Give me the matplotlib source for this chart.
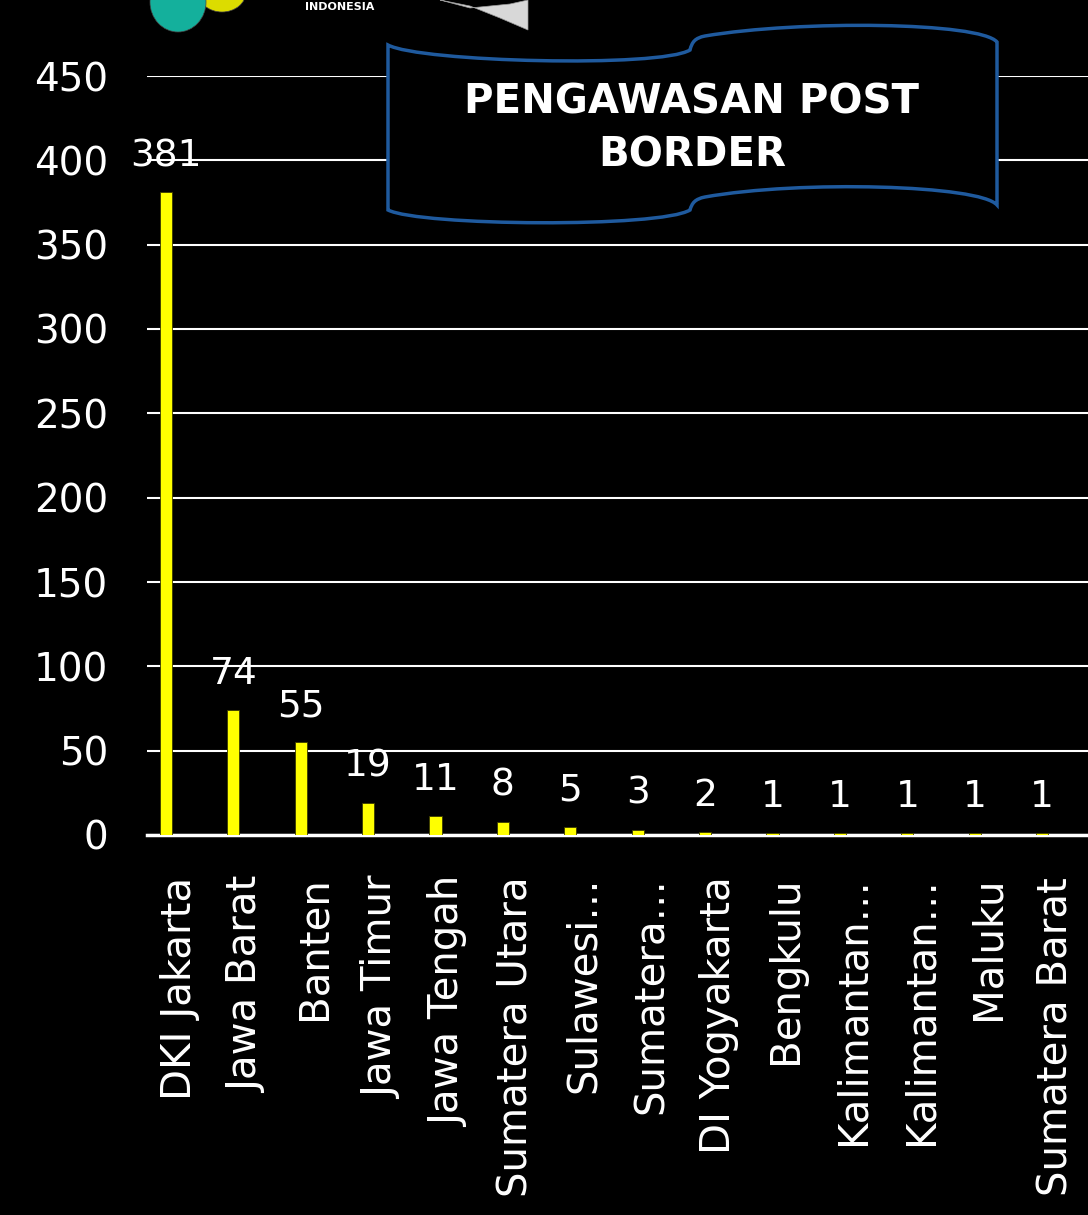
import matplotlib
matplotlib.use("Agg")
import matplotlib.pyplot as plt
import matplotlib.transforms as mtransforms
from matplotlib.path import Path
from matplotlib.patches import PathPatch, Ellipse

# data
provinsi = ["DKI Jakarta", "Jawa Barat", "Banten", "Jawa Timur", "Jawa Tengah",
            "Sumatera Utara", "Sulawesi…", "Sumatera…", "DI Yogyakarta", "Bengkulu",
            "Kalimantan…", "Kalimantan…", "Maluku", "Sumatera Barat"]
jumlah = [381, 74, 55, 19, 11, 8, 5, 3, 2, 1, 1, 1, 1, 1]
judul = "PENGAWASAN POST\nBORDER"

W, H = 1088, 1215
plt.rcParams['font.family'] = ['DejaVu Sans']

fig = plt.figure(figsize=(W / 100, H / 100), dpi=100, facecolor="black")
ax = fig.add_axes([147 / W, 1 - 835 / H, 1 - 147 / W, (835 - 76) / H], facecolor="black")

x = list(range(len(provinsi)))
ax.bar(x, jumlah, width=0.18, color="#ffff00", edgecolor="#3a3a00", linewidth=0.6, zorder=3)

for xi, v in zip(x, jumlah):
    ax.annotate(str(v), (xi, v), xytext=(0, 13), textcoords="offset points",
                ha="center", va="bottom", color="white", fontsize=27, zorder=4)

ax.set_xlim(-0.28, 13.68)
ax.set_ylim(0, 450)
ax.set_yticks(range(0, 451, 50))
ax.grid(axis="y", color="white", linewidth=1.5, zorder=1)
ax.set_axisbelow(True)
for s in ["top", "right", "left"]:
    ax.spines[s].set_visible(False)
ax.spines["bottom"].set_color("white")
ax.spines["bottom"].set_linewidth(2.5)
ax.spines["bottom"].set_zorder(2)
ax.tick_params(axis="y", length=0, pad=28, labelsize=28, labelcolor="white")
ax.tick_params(axis="x", length=0, pad=30, labelsize=29, labelcolor="white")
ax.set_xticks(x)
ax.set_xticklabels(provinsi, rotation=90, va="top", ha="center")
geser = mtransforms.ScaledTranslation(10 / 72, 0, fig.dpi_scale_trans)
for lbl in ax.get_xticklabels():
    lbl.set_transform(lbl.get_transform() + geser)


def px(p):
    return (p[0] / W, 1 - p[1] / H)


# banner
titik = [(388, 45),
         (420, 62), (660, 68), (690, 50),
         (692, 42), (695, 38), (705, 36),
         (800, 20), (980, 22), (997, 42),
         (997, 205),
         (980, 185), (800, 180), (705, 197),
         (695, 199), (692, 203), (690, 210),
         (660, 228), (420, 226), (388, 210),
         (388, 45)]
kode = [Path.MOVETO,
        Path.CURVE4, Path.CURVE4, Path.CURVE4,
        Path.CURVE4, Path.CURVE4, Path.CURVE4,
        Path.CURVE4, Path.CURVE4, Path.CURVE4,
        Path.LINETO,
        Path.CURVE4, Path.CURVE4, Path.CURVE4,
        Path.CURVE4, Path.CURVE4, Path.CURVE4,
        Path.CURVE4, Path.CURVE4, Path.CURVE4,
        Path.CLOSEPOLY]
banner = PathPatch(Path([px(p) for p in titik], kode), transform=fig.transFigure,
                   facecolor="black", edgecolor="#1f5a9e", linewidth=2.5, zorder=5)
fig.patches.append(banner)
fig.text(692 / W, 1 - 129 / H, judul, ha="center", va="center", color="white",
         fontsize=29, fontweight="bold", linespacing=1.45, zorder=6)

# logo di pojok kiri atas
fig.patches.append(Ellipse(px((178, 2)), 56 / W, 60 / H, transform=fig.transFigure,
                           facecolor="#14b09c", edgecolor="#444444", linewidth=0.5, zorder=5))
fig.patches.append(Ellipse(px((222, -8)), 48 / W, 40 / H, transform=fig.transFigure,
                           facecolor="#dcdc00", edgecolor="#444444", linewidth=0.5, zorder=4))
fig.text(340 / W, 1 - 12 / H, "INDONESIA", ha="center", va="bottom", color="white",
         fontsize=8, fontweight="bold", zorder=6)
bendera = Path([px((440, 0)), px((470, 8)), px((510, 4)), px((528, 0)),
                px((528, 30)), px((500, 18)), px((470, 6)), px((440, 0))])
fig.patches.append(PathPatch(bendera, transform=fig.transFigure, facecolor="#d8d8d8",
                             edgecolor="#999999", linewidth=0.5, zorder=5))

fig.savefig("out.png", dpi=100, facecolor="black")
